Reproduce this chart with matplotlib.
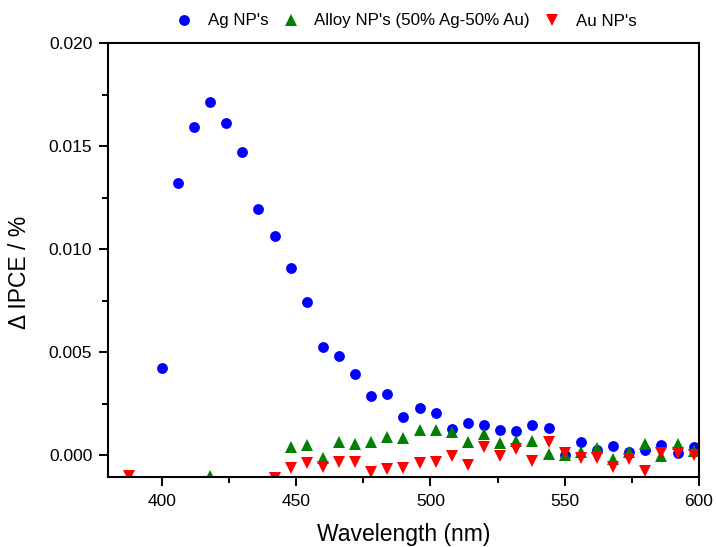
import matplotlib
matplotlib.use("Agg")
import matplotlib.pyplot as plt
from matplotlib.ticker import MultipleLocator, FormatStrFormatter

plt.rcParams['font.family'] = ['Liberation Sans', 'DejaVu Sans']

# ---- data ----
x_ag = [400, 406, 412, 418, 424, 430, 436, 442, 448, 454, 460, 466, 472, 478, 484,
        490, 496, 502, 508, 514, 520, 526, 532, 538, 544, 550, 556, 562, 568, 574,
        580, 586, 592, 598]
ag = [0.00423, 0.0132, 0.01592, 0.01716, 0.01614, 0.01472, 0.01194, 0.01064, 0.00908,
      0.00743, 0.00525, 0.00481, 0.00393, 0.00287, 0.00296, 0.00186, 0.00227, 0.00205,
      0.00125, 0.00154, 0.00146, 0.0012, 0.00118, 0.00144, 0.00133, 0.00002, 0.00063,
      0.00025, 0.00043, 0.00015, 0.00023, 0.00047, 0.00008, 0.0004]

x_alloy = [418, 436, 448, 454, 460, 466, 472, 478, 484, 490, 496, 502, 508, 514, 520,
           526, 532, 538, 544, 550, 556, 562, 568, 574, 580, 586, 592, 598]
alloy = [-0.00103, -0.0013, 0.0004, 0.00049, -0.00016, 0.00063, 0.00053, 0.00063,
         0.00086, 0.00081, 0.00121, 0.00121, 0.00114, 0.00063, 0.001, 0.0006, 0.00069,
         0.00066, 0.00003, -0.00001, 0.00013, 0.00036, -0.0002, 0.00013, 0.00051,
         -0.00005, 0.00055, 0.0002]

x_au = [388, 442, 448, 454, 460, 466, 472, 478, 484, 490, 496, 502, 508, 514, 520,
        526, 532, 538, 544, 550, 556, 562, 568, 574, 580, 586, 592, 598]
au = [-0.00103, -0.00112, -0.00065, -0.00037, -0.0006, -0.00032, -0.00032, -0.00081,
      -0.0007, -0.00065, -0.00037, -0.00032, -0.00005, -0.00049, 0.0004, -0.00006,
      0.00028, -0.00028, 0.00063, 0.00008, -0.00016, -0.00016, -0.00057, -0.00021,
      -0.00076, 0.00011, 0.00012, 0.0]

labels = ["Ag NP's", "Alloy NP's (50% Ag-50% Au)", "Au NP's"]

# ---- figure ----
fig = plt.figure(figsize=(7.16, 5.47), dpi=100)
ax = fig.add_axes([108/716, 1-477/547, (699-108)/716, (477-43.3)/547])

ax.plot(x_ag, ag, linestyle='none', marker='o', ms=7.8, mew=0, color='#0000FF', label=labels[0])
ax.plot(x_alloy, alloy, linestyle='none', marker='^', ms=8.6, mew=0, color='#008000', label=labels[1])
ax.plot(x_au, au, linestyle='none', marker='v', ms=8.6, mew=0, color='#FF0000', label=labels[2])

ax.set_xlim(380, 600)
ax.set_ylim(-0.00107, 0.020)

ax.xaxis.set_major_locator(MultipleLocator(50))
ax.xaxis.set_minor_locator(MultipleLocator(25))
ax.yaxis.set_major_locator(MultipleLocator(0.005))
ax.yaxis.set_minor_locator(MultipleLocator(0.0025))
ax.yaxis.set_major_formatter(FormatStrFormatter('%.3f'))

for s in ax.spines.values():
    s.set_linewidth(1.5)
ax.tick_params(which='major', direction='out', length=6.8, width=1.4, labelsize=12.5)
ax.tick_params(which='minor', direction='out', length=4.3, width=1.4)
ax.tick_params(axis='x', which='major', pad=5.5)
ax.tick_params(axis='y', which='major', pad=4.5)

ax.set_xlabel('Wavelength (nm)', fontsize=16.5)
ax.xaxis.set_label_coords(0.5, -0.106)
ax.xaxis.label.set_va('top')
ax.set_ylabel('\u0394 IPCE / %', fontsize=16.5)
ax.yaxis.set_label_coords(-0.13, 0.4715)

fig.legend(loc='center left', bbox_to_anchor=(175.7/716, 1-21/547), ncol=3,
           frameon=False, fontsize=12.2, borderpad=0, borderaxespad=0,
           handlelength=1.0, handletextpad=0.9, columnspacing=0.8, numpoints=1)

fig.savefig('out.png', dpi=100)
